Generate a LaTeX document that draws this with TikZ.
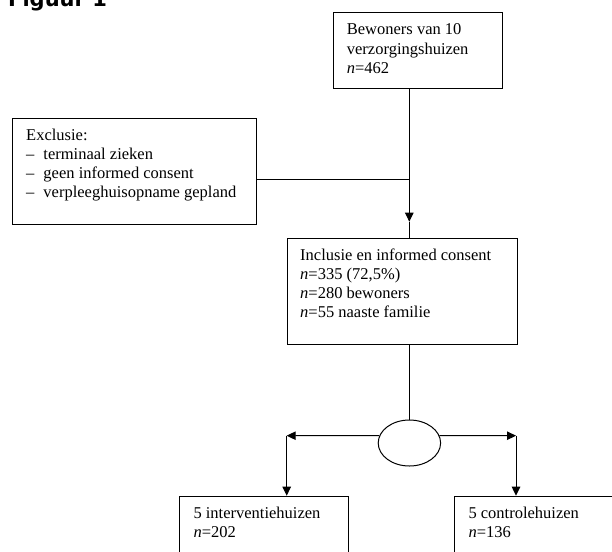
\documentclass[tikz,border=0pt]{standalone}
\usepackage{fontspec}
\setmainfont{Liberation Serif}
\newfontfamily\headfont{DejaVu Sans}
\usetikzlibrary{arrows.meta,shapes.geometric}
\tikzset{
  boxst/.style={draw=black, line width=1pt, rectangle, inner sep=0pt, anchor=north west},
  txt/.style={anchor=base west, inner sep=0pt, font=\fontsize{16.5}{19}\selectfont},
  conn/.style={draw=black, line width=1pt},
  arr/.style={conn, -{Triangle[length=9pt,width=8.5pt]}},
}
\newcommand{\tlines}[1]{\parbox[t]{260pt}{\raggedright\fontsize{16.5}{19}\selectfont #1}}
\newcommand{\dashitem}[1]{\makebox[17.3pt][l]{\textendash}#1}
\begin{document}
\begin{tikzpicture}[x=1pt,y=-1pt]
\useasboundingbox (0,0) rectangle (612,551);
\fill[white] (0,0) rectangle (612,551);
\clip (0,0) rectangle (612,551);

% heading
\node[anchor=base west, inner sep=0pt, font=\headfont\bfseries\fontsize{21}{25}\selectfont] (fig) at (8,6.5) {Figuur 1};

% boxes
\node[boxst, minimum width=168.4pt, minimum height=75.4pt] (top) at (333.3,12.3) {};
\node[boxst, minimum width=243.7pt, minimum height=105.7pt] (excl) at (12.3,118.3) {};
\node[boxst, minimum width=230pt, minimum height=105.7pt] (incl) at (286.7,238.3) {};
\node[boxst, minimum width=169pt, minimum height=80pt] (left) at (179.3,495.7) {};
\node[boxst, minimum width=170pt, minimum height=80pt] (right) at (454,495.7) {};
\node[draw=black, line width=1pt, ellipse, minimum width=62.4pt, minimum height=46pt, inner sep=0pt] (split) at (409.4,443) {};

% texts
\node[txt] (ttop) at (346.7,35) {\tlines{Bewoners van 10\\verzorgingshuizen\\\textit{n}=462}};
\node[txt] (texcl) at (26,140) {\tlines{Exclusie:\\\dashitem{terminaal zieken}\\\dashitem{geen informed consent}\\\dashitem{verpleeghuisopname gepland}}};
\node[txt] (tincl) at (300,260.7) {\tlines{Inclusie en informed consent\\\textit{n}=335 (72,5\%)\\\textit{n}=280 bewoners\\\textit{n}=55 naaste familie}};
\node[txt] (tleft) at (193.3,518) {\tlines{5 interventiehuizen\\\textit{n}=202}};
\node[txt] (tright) at (468.3,518) {\tlines{5 controlehuizen\\\textit{n}=136}};

% connector coordinates
\coordinate (mainx) at (409.3,0);
\coordinate (tipA) at (409.3,221.7);
\coordinate (joinA) at (409.3,179);
\coordinate (cL) at (286.7,435.7);
\coordinate (cR) at (516,435.7);

% connectors
\draw[arr] (top.south -| mainx) -- (tipA);
\draw[conn] (tipA) -- (incl.north -| mainx);
\draw[conn] (excl.east |- joinA) -- (joinA);
\draw[conn] (incl.south -| mainx) -- (split.north -| mainx);
\draw[arr] (split.166) -- (cL);
\draw[arr] (cL) -- (left.north -| cL);
\draw[arr] (split.14) -- (cR);
\draw[arr] (cR) -- (right.north -| cR);
\end{tikzpicture}
\end{document}
